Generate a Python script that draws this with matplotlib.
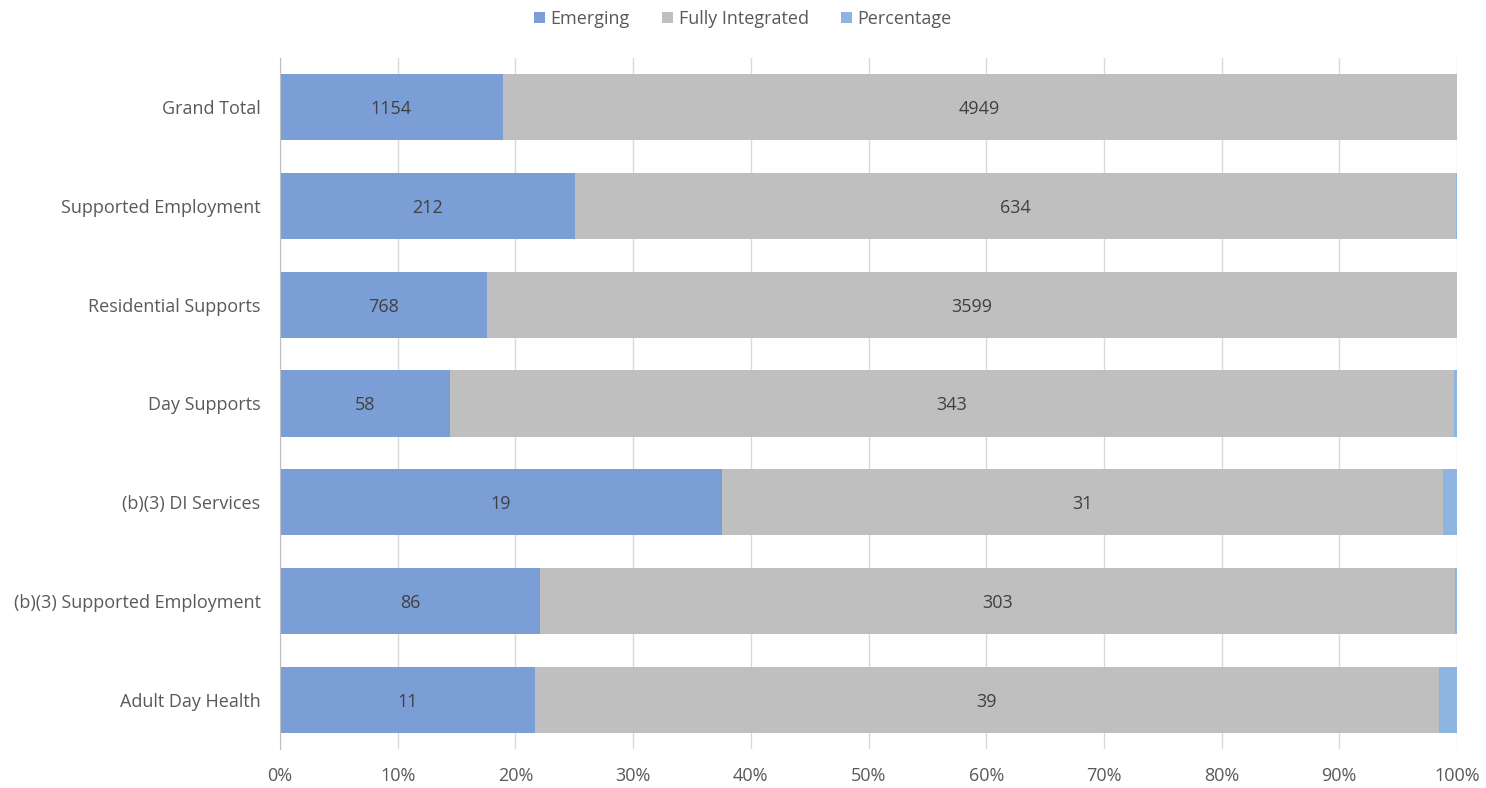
import matplotlib.pyplot as plt
import numpy as np

plt.rcParams['font.family'] = ['Open Sans', 'DejaVu Sans']

categories = ['Adult Day Health', '(b)(3) Supported Employment', '(b)(3) DI Services',
              'Day Supports', 'Residential Supports', 'Supported Employment', 'Grand Total']
emerging = [11, 86, 19, 58, 768, 212, 1154]
fully = [39, 303, 31, 343, 3599, 634, 4949]
percentage = [0.78, 0.78, 0.62, 0.86, 0.82, 0.75, 0.81]

em = np.array(emerging, float)
fu = np.array(fully, float)
pc = np.array(percentage, float)
tot = em + fu + pc
em_s, fu_s, pc_s = em / tot, fu / tot, pc / tot

fig = plt.figure(figsize=(14.86, 7.88), dpi=100)
ax = fig.add_axes([280 / 1486, 1 - 749 / 788, 1177 / 1486, 691 / 788])
y = np.arange(len(categories))
h = 0.67
b1 = ax.barh(y, em_s, height=h, color='#7B9ED6', label='Emerging', zorder=2)
b2 = ax.barh(y, fu_s, left=em_s, height=h, color='#BFBFBF', label='Fully Integrated', zorder=2)
b3 = ax.barh(y, pc_s, left=em_s + fu_s, height=h, color='#8DB5E0', label='Percentage', zorder=2)

for i in range(len(categories)):
    ax.text(em_s[i] / 2, y[i] - 0.02, str(emerging[i]), ha='center', va='center',
            fontsize=13, color='#404040', zorder=3)
    ax.text(em_s[i] + fu_s[i] / 2, y[i] - 0.02, str(fully[i]), ha='center', va='center',
            fontsize=13, color='#404040', zorder=3)

ax.set_xlim(0, 1)
ax.set_ylim(-0.5, len(categories) - 0.5)
ax.set_xticks(np.linspace(0, 1, 11))
ax.set_xticklabels([f'{int(v)}%' for v in np.linspace(0, 100, 11)])
ax.set_yticks(y)
ax.set_yticklabels(categories)
ax.tick_params(axis='both', length=0, labelsize=13, colors='#595959')
ax.tick_params(axis='x', pad=13)
ax.tick_params(axis='y', pad=14)
ax.grid(axis='x', color='#D9D9D9', linewidth=1, zorder=0)
for s in ['top', 'right', 'bottom']:
    ax.spines[s].set_visible(False)
ax.spines['left'].set_color('#BFBFBF')
ax.spines['left'].set_zorder(4)

fig.legend(handles=[b1, b2, b3], loc='upper center', bbox_to_anchor=(0.5, 1.008), ncol=3,
           frameon=False, fontsize=13, handlelength=0.6, handleheight=0.6,
           handletextpad=0.3, columnspacing=1.8, labelcolor='#595959')

fig.savefig('out.png', dpi=100)
